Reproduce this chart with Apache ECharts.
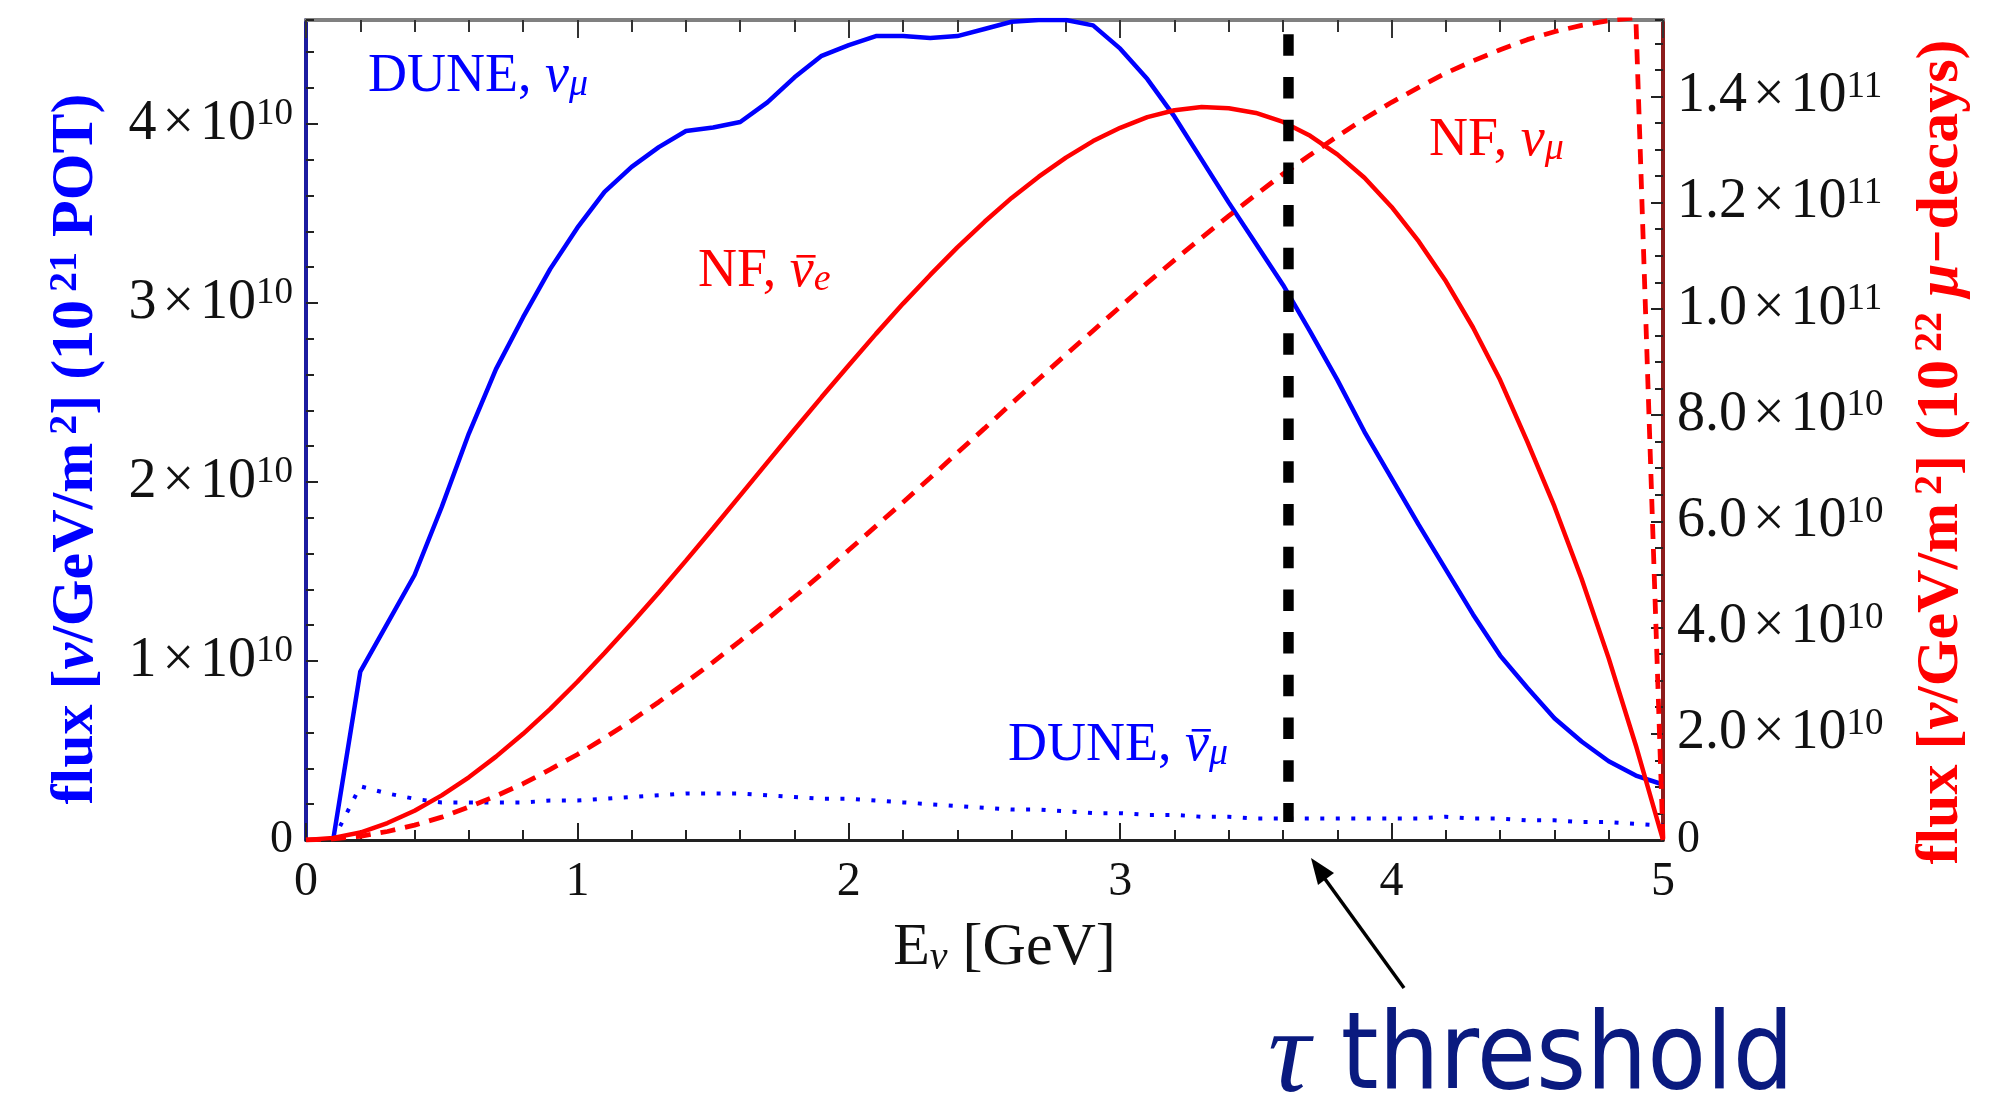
<!DOCTYPE html>
<html>
<head>
<meta charset="utf-8">
<script src="https://cdn.jsdelivr.net/npm/echarts@6/dist/echarts.min.js"></script>
<style>html,body{margin:0;padding:0;background:#fff}#c{width:1998px;height:1096px}</style>
</head>
<body>
<div id="c"></div>
<script>
// ---------------- DATA (flux values in units of 1e10) ----------------
const energyGeV = [0.0,0.1,0.2,0.3,0.4,0.5,0.6,0.7,0.8,0.9,1.0,1.1,1.2,1.3,1.4,1.5,1.6,1.7,1.8,1.9,2.0,2.1,2.2,2.3,2.4,2.5,2.6,2.7,2.8,2.9,3.0,3.1,3.2,3.3,3.4,3.5,3.6,3.7,3.8,3.9,4.0,4.1,4.2,4.3,4.4,4.5,4.6,4.7,4.8,4.9,5.0];
// DUNE nu_mu (left axis, 1e21 POT)
const duneNuMu = [null,0,0.94,1.21,1.48,1.86,2.27,2.63,2.92,3.19,3.42,3.62,3.76,3.87,3.96,3.98,4.01,4.12,4.26,4.38,4.44,4.49,4.49,4.48,4.49,4.53,4.57,4.58,4.58,4.55,4.42,4.25,4.04,3.80,3.56,3.33,3.10,2.84,2.57,2.28,2.02,1.76,1.51,1.26,1.03,0.85,0.68,0.55,0.44,0.36,0.31];
// DUNE anti-nu_mu (left axis)
const duneNuMuBar = [null,0,0.30,0.26,0.23,0.21,0.21,0.21,0.21,0.22,0.22,0.23,0.24,0.25,0.26,0.26,0.26,0.25,0.24,0.23,0.23,0.22,0.21,0.20,0.19,0.18,0.17,0.17,0.16,0.15,0.15,0.14,0.14,0.13,0.13,0.12,0.12,0.12,0.12,0.12,0.12,0.12,0.13,0.12,0.12,0.11,0.11,0.10,0.10,0.09,0.08];
// NF anti-nu_e (right axis, 1e22 mu decays)
const nfNuEBar = [0,0.04,0.14,0.32,0.55,0.84,1.18,1.57,2.00,2.47,2.98,3.52,4.08,4.66,5.26,5.87,6.49,7.11,7.73,8.34,8.94,9.53,10.10,10.64,11.16,11.64,12.09,12.49,12.85,13.16,13.41,13.61,13.74,13.80,13.78,13.69,13.52,13.26,12.91,12.47,11.92,11.27,10.52,9.65,8.66,7.50,6.28,4.92,3.42,1.78,0];
// NF nu_mu (right axis)
const nfNuMu = [0,0.02,0.07,0.16,0.28,0.43,0.62,0.83,1.06,1.33,1.61,1.92,2.25,2.60,2.97,3.35,3.75,4.16,4.58,5.01,5.46,5.91,6.36,6.82,7.29,7.75,8.22,8.68,9.14,9.59,10.04,10.49,10.92,11.34,11.75,12.15,12.54,12.90,13.25,13.58,13.89,14.17,14.44,14.67,14.88,15.07,15.22,15.34,15.43,15.48,0];
// tau threshold marker (E in GeV, vertical span in left-axis units, top -> bottom)
const tauThresholdGeV = 3.62;
const tauLineSpan = [4.50, 0.10];
// axis tick labels
const xTickLabels = ['0','1','2','3','4','5'];
const leftTickValues = [1,2,3,4];
const rightTickValues = [2,4,6,8,10,12,14];

// ---------------- STYLE ----------------
const SERIF = 'Liberation Serif';
const BLUE = '#0000ff', RED = '#ff0000', NAVY = '#0a1a7f';

function pairs(arr){ return energyGeV.map((e,i)=>[e, arr[i]]); }

const tickRich = {
  b: {fontFamily: SERIF, fontSize: 56, lineHeight: 56, color: '#111'},
  x: {fontFamily: SERIF, fontSize: 56, lineHeight: 56, color: '#111', padding: [0,6,0,6]},
  s: {fontFamily: SERIF, fontSize: 37, lineHeight: 26, verticalAlign: 'top', color: '#111'},
  z: {fontFamily: SERIF, fontSize: 46, lineHeight: 46, color: '#111'}
};
function near(v, list){ return list.find(t => Math.abs(t - v) < 1e-6); }
function leftFmt(v){
  if (Math.abs(v) < 1e-9) return '{z|0}';
  const t = near(v, leftTickValues);
  return t === undefined ? '' : '{b|' + t + '}{x|×}{b|10}{s|10}';
}
function rightFmt(v){
  if (Math.abs(v) < 1e-9) return '{z|0}';
  const t = near(v, rightTickValues);
  if (t === undefined) return '';
  if (t >= 10) return '{b|' + (t/10).toFixed(1) + '}{x|×}{b|10}{s|11}';
  return '{b|' + t.toFixed(1) + '}{x|×}{b|10}{s|10}';
}
function titleRich(color){
  return {
    b: {fontFamily: SERIF, fontWeight: 'bold', fontSize: 60, lineHeight: 60, color: color},
    i: {fontFamily: SERIF, fontWeight: 'bold', fontStyle: 'italic', fontSize: 60, lineHeight: 60, color: color},
    s: {fontFamily: SERIF, fontWeight: 'bold', fontSize: 40, lineHeight: 30, verticalAlign: 'top', color: color, padding: [0,0,0,8]}
  };
}

// ---- in-plot curve labels (text annotations) ----
const LBL = 54;
const mctx = document.createElement('canvas').getContext('2d');
function textW(txt, font){ mctx.font = font; return mctx.measureText(txt).width; }
function label(x, y, prefix, greek, sub, color, bar){
  const els = [{
    type: 'text', x: x, y: y, z: 50,
    style: {
      text: '{n|' + prefix + '}{g|' + greek + '}{s|' + sub + '}', align: 'left', verticalAlign: 'middle',
      rich: {
        n: {fill: color, fontFamily: SERIF, fontSize: LBL, lineHeight: LBL},
        g: {fill: color, fontFamily: SERIF, fontStyle: 'italic', fontSize: LBL, lineHeight: LBL},
        s: {fill: color, fontFamily: SERIF, fontStyle: 'italic', fontSize: 38, lineHeight: 34, verticalAlign: 'bottom'}
      }
    }
  }];
  if (bar) {
    const xg = x + textW(prefix, LBL + 'px "' + SERIF + '"');
    const wg = textW(greek, 'italic ' + LBL + 'px "' + SERIF + '"');
    els.push({type: 'rect', z: 50, shape: {x: xg + 0.28 * wg, y: y - 17, width: 0.8 * wg, height: 2.6},
              style: {fill: color}});
  }
  return els;
}

const chart = echarts.init(document.getElementById('c'), null, {renderer: 'canvas'});
const option = {
  animation: false,
  backgroundColor: '#ffffff',
  grid: {left: 306, right: 335, top: 20, bottom: 256, containLabel: false, outerBoundsMode: 'none'},
  xAxis: [
    {
      type: 'value', position: 'bottom', min: 0, max: 5, interval: 1,
      axisLine: {show: true, onZero: false, lineStyle: {color: '#222', width: 3}},
      axisTick: {show: true, inside: true, length: 17, lineStyle: {color: '#222', width: 2}},
      minorTick: {show: true, splitNumber: 5, length: 10, lineStyle: {color: '#222', width: 2}},
      splitLine: {show: false}, minorSplitLine: {show: false},
      axisLabel: {margin: 18, fontFamily: SERIF, fontSize: 48, color: '#111',
                  formatter: (v) => { const i = Math.round(v); return Math.abs(v - i) < 1e-6 ? xTickLabels[i] : ''; }},
      name: '{t|E}{u|ν}{t| [GeV]}', nameLocation: 'middle', nameGap: 78, nameMoveOverlap: false,
      nameTextStyle: {padding: [0,0,0,40], rich: {
        t: {fontFamily: SERIF, fontSize: 60, lineHeight: 60, color: '#111'},
        u: {fontFamily: SERIF, fontStyle: 'italic', fontSize: 40, lineHeight: 36, verticalAlign: 'bottom', color: '#111'}
      }}
    },
    {
      type: 'value', position: 'top', min: 0, max: 5, interval: 1,
      axisLine: {show: true, onZero: false, lineStyle: {color: '#808080', width: 4}},
      axisTick: {show: true, inside: true, length: 18, lineStyle: {color: '#333', width: 2}},
      minorTick: {show: true, splitNumber: 5, length: 12, lineStyle: {color: '#333', width: 2}},
      splitLine: {show: false}, minorSplitLine: {show: false},
      axisLabel: {show: false}
    }
  ],
  yAxis: [
    {
      type: 'value', position: 'left', min: 0, max: 4.58, interval: 1,
      axisLine: {show: true, onZero: false, lineStyle: {color: '#1c1ca0', width: 4}},
      axisTick: {show: true, inside: true, length: 12, lineStyle: {color: '#222', width: 2}},
      splitLine: {show: false},
      axisLabel: {margin: 13, formatter: leftFmt, rich: tickRich, showMaxLabel: false},
      name: '{b|flux [}{i|ν}{b|/GeV/m}{s|2}{b|] (10}{s|21}{b| POT)}',
      nameLocation: 'middle', nameRotate: 90, nameGap: 200, nameMoveOverlap: false,
      nameTextStyle: {padding: [0,38,0,0], rich: titleRich(BLUE)}
    },
    {
      type: 'value', position: 'left', min: 0, max: 4.58, interval: 0.2,
      axisLine: {show: false, onZero: false},
      axisTick: {show: true, inside: true, length: 8, lineStyle: {color: '#222', width: 2}},
      splitLine: {show: false}, axisLabel: {show: false}
    },
    {
      type: 'value', position: 'right', min: 0, max: 15.44, interval: 2,
      axisLine: {show: true, onZero: false, lineStyle: {color: '#8c1c1c', width: 4}},
      axisTick: {show: true, inside: true, length: 12, lineStyle: {color: '#222', width: 2}},
      splitLine: {show: false},
      axisLabel: {margin: 14, formatter: rightFmt, rich: tickRich, showMaxLabel: false},
      name: '{b|flux [}{i|ν}{b|/GeV/m}{s|2}{b|] (10}{s|22}{b| }{i|μ}{b|−decays)}',
      nameLocation: 'middle', nameRotate: 90, nameGap: 248, nameMoveOverlap: false,
      nameTextStyle: {padding: [0,44,0,0], rich: titleRich(RED)}
    },
    {
      type: 'value', position: 'right', min: 0, max: 15.44, interval: 0.5,
      axisLine: {show: false, onZero: false},
      axisTick: {show: true, inside: true, length: 8, lineStyle: {color: '#222', width: 2}},
      splitLine: {show: false}, axisLabel: {show: false}
    }
  ],
  series: [
    {name: 'DUNE nu_mu', type: 'line', xAxisIndex: 0, yAxisIndex: 0, data: pairs(duneNuMu),
     symbol: 'none', connectNulls: false, smooth: false, silent: true, z: 3,
     lineStyle: {color: BLUE, width: 4.5}},
    {name: 'DUNE anti-nu_mu', type: 'line', xAxisIndex: 0, yAxisIndex: 0, data: pairs(duneNuMuBar),
     symbol: 'none', connectNulls: false, smooth: false, silent: true, z: 3,
     lineStyle: {color: BLUE, width: 4, type: [4, 11.5]}},
    {name: 'NF anti-nu_e', type: 'line', xAxisIndex: 0, yAxisIndex: 2, data: pairs(nfNuEBar),
     symbol: 'none', smooth: false, silent: true, z: 4,
     lineStyle: {color: RED, width: 4.5}},
    {name: 'NF nu_mu', type: 'line', xAxisIndex: 0, yAxisIndex: 2, data: pairs(nfNuMu),
     symbol: 'none', smooth: false, silent: true, z: 4,
     lineStyle: {color: RED, width: 4.8, type: [15, 10]}},
    {name: 'tau threshold', type: 'line', xAxisIndex: 0, yAxisIndex: 0,
     data: tauLineSpan.map(v => [tauThresholdGeV, v]),
     symbol: 'none', silent: true, z: 6,
     lineStyle: {color: '#000', width: 10.5, type: [21.5, 21.2], cap: 'butt'}}
  ],
  graphic: [].concat(
    label(368, 77, 'DUNE, ', 'ν', 'μ', BLUE, false),
    label(698, 272, 'NF, ', 'ν', 'e', RED, true),
    label(1008, 746, 'DUNE, ', 'ν', 'μ', BLUE, true),
    label(1429, 141, 'NF, ', 'ν', 'μ', RED, false),
    [
      {type: 'line', z: 50, shape: {x1: 1404, y1: 988, x2: 1325, y2: 879}, style: {stroke: '#000', lineWidth: 3.5}},
      {type: 'polygon', z: 50, shape: {points: [[1311, 858], [1334, 873], [1318, 885]]}, style: {fill: '#000'}},
      {type: 'text', x: 1268, y: 1060, z: 50, style: {
        text: '{t|τ}{h| threshold}', align: 'left', verticalAlign: 'middle',
        rich: {
          t: {fill: NAVY, fontFamily: SERIF, fontStyle: 'italic', fontSize: 118, lineHeight: 106},
          h: {fill: NAVY, fontFamily: 'DejaVu Sans Condensed', fontSize: 107, lineHeight: 106}
        }
      }}
    ]
  )
};
chart.setOption(option);
</script>
</body>
</html>
